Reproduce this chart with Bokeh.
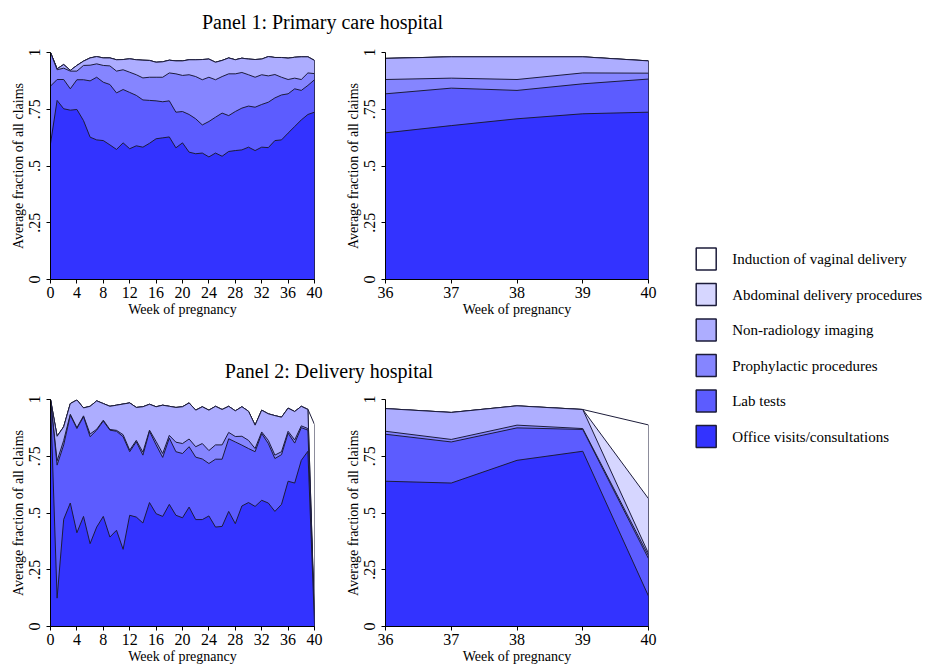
import numpy as np
from bokeh.plotting import figure
from bokeh.models import Range1d, FixedTicker
from bokeh.layouts import row, column
from bokeh.embed import file_html
from bokeh.resources import INLINE
from bokeh.core.properties import value

FONT = "Liberation Serif"

series_names = ["Office visits/consultations", "Lab tests", "Prophylactic procedures",
                "Non-radiology imaging", "Abdominal delivery procedures",
                "Induction of vaginal delivery"]
series_colors = ["#3333ff", "#5c5cff", "#8585ff", "#adadff", "#d6d6ff", "#ffffff"]
outline_color = "#1c1c3a"

weeks_all = list(range(0, 41))
weeks_end = [36, 37, 38, 39, 40]
x_ticks_all = [0, 4, 8, 12, 16, 20, 24, 28, 32, 36, 40]
x_ticks_end = [36, 37, 38, 39, 40]
y_ticks = [0, 0.25, 0.5, 0.75, 1]
y_tick_labels = ["0", ".25", ".5", ".75", "1"]

panel_titles = ["Panel 1: Primary care hospital", "Panel 2: Delivery hospital"]
x_title = "Week of pregnancy"
y_title = "Average fraction of all claims"

# ---------------- Panel 1, weeks 0-40 ----------------
p1_office = [0.598, 0.789, 0.752, 0.746, 0.749, 0.700, 0.627, 0.615, 0.612, 0.593,
             0.573, 0.602, 0.576, 0.589, 0.583, 0.600, 0.620, 0.624, 0.628, 0.580,
             0.602, 0.561, 0.554, 0.557, 0.540, 0.557, 0.543, 0.564, 0.568, 0.571,
             0.583, 0.568, 0.583, 0.581, 0.612, 0.615, 0.645, 0.674, 0.703, 0.727,
             0.737]
p1_lab = [0.254, 0.092, 0.129, 0.094, 0.131, 0.180, 0.248, 0.276, 0.257, 0.266,
          0.249, 0.235, 0.248, 0.222, 0.208, 0.189, 0.167, 0.159, 0.159, 0.157,
          0.138, 0.166, 0.154, 0.124, 0.156, 0.158, 0.190, 0.158, 0.172, 0.184,
          0.181, 0.191, 0.188, 0.200, 0.188, 0.198, 0.173, 0.166, 0.130, 0.128,
          0.143]
p1_prophylactic = [0.148, 0.043, 0.050, 0.078, 0.038, 0.063, 0.069, 0.059, 0.074, 0.082,
                   0.096, 0.087, 0.089, 0.091, 0.097, 0.102, 0.104, 0.108, 0.123, 0.169,
                   0.159, 0.175, 0.186, 0.199, 0.195, 0.165, 0.161, 0.184, 0.166, 0.157,
                   0.138, 0.132, 0.131, 0.116, 0.103, 0.078, 0.063, 0.047, 0.048, 0.055,
                   0.027]
p1_imaging = [0.000, 0.004, 0.016, 0.003, 0.025, 0.019, 0.032, 0.032, 0.033, 0.035,
              0.050, 0.045, 0.059, 0.066, 0.078, 0.074, 0.066, 0.068, 0.056, 0.057,
              0.064, 0.066, 0.074, 0.089, 0.080, 0.077, 0.071, 0.070, 0.062, 0.063,
              0.069, 0.078, 0.069, 0.085, 0.075, 0.087, 0.094, 0.092, 0.100, 0.071,
              0.058]
p1_abdominal = [0.0, 0.0, 0.0, 0.0, 0.0, 0.0, 0.0, 0.0, 0.0, 0.0,
                0.0, 0.0, 0.0, 0.0, 0.0, 0.0, 0.0, 0.0, 0.0, 0.0,
                0.0, 0.0, 0.0, 0.0, 0.0, 0.0, 0.0, 0.0, 0.0, 0.0,
                0.0, 0.0, 0.0, 0.0, 0.0, 0.0, 0.0, 0.0, 0.0, 0.0,
                0.0]
p1_induction = [0.0, 0.0, 0.0, 0.0, 0.0, 0.0, 0.0, 0.0, 0.0, 0.0,
                0.0, 0.0, 0.0, 0.0, 0.0, 0.0, 0.0, 0.0, 0.0, 0.0,
                0.0, 0.0, 0.0, 0.0, 0.0, 0.0, 0.0, 0.0, 0.0, 0.0,
                0.0, 0.0, 0.0, 0.0, 0.0, 0.0, 0.0, 0.0, 0.0, 0.0,
                0.0]

# ---------------- Panel 1, weeks 36-40 ----------------
p1e_office = [0.646, 0.678, 0.708, 0.730, 0.737]
p1e_lab = [0.172, 0.165, 0.125, 0.132, 0.146]
p1e_prophylactic = [0.063, 0.044, 0.048, 0.048, 0.026]
p1e_imaging = [0.093, 0.094, 0.100, 0.071, 0.054]
p1e_abdominal = [0.0, 0.0, 0.0, 0.0, 0.0]
p1e_induction = [0.0, 0.0, 0.0, 0.0, 0.0]

# ---------------- Panel 2, weeks 0-40 ----------------
p2_office = [1.000, 0.125, 0.472, 0.544, 0.413, 0.485, 0.365, 0.438, 0.485, 0.394,
             0.424, 0.340, 0.490, 0.482, 0.456, 0.546, 0.497, 0.485, 0.538, 0.490,
             0.479, 0.526, 0.471, 0.471, 0.487, 0.438, 0.441, 0.507, 0.453, 0.531,
             0.546, 0.529, 0.556, 0.544, 0.507, 0.538, 0.640, 0.632, 0.732, 0.772,
             0.010]
p2_lab = [0.000, 0.586, 0.328, 0.387, 0.459, 0.439, 0.471, 0.427, 0.420, 0.471,
          0.436, 0.496, 0.280, 0.332, 0.299, 0.314, 0.303, 0.260, 0.292, 0.280,
          0.283, 0.266, 0.275, 0.267, 0.231, 0.299, 0.296, 0.320, 0.360, 0.268,
          0.238, 0.241, 0.294, 0.262, 0.233, 0.219, 0.212, 0.176, 0.144, 0.093,
          0.005]
p2_prophylactic = [0.000, 0.019, 0.020, 0.004, 0.004, 0.004, 0.012, 0.004, 0.004, 0.003,
                   0.004, 0.009, 0.007, 0.006, 0.013, 0.005, 0.015, 0.017, 0.012, 0.042,
                   0.044, 0.034, 0.046, 0.068, 0.057, 0.063, 0.063, 0.028, 0.024, 0.039,
                   0.036, 0.014, 0.007, 0.014, 0.015, 0.013, 0.008, 0.014, 0.008, 0.007,
                   0.005]
p2_imaging = [0.000, 0.108, 0.060, 0.047, 0.122, 0.035, 0.122, 0.125, 0.073, 0.102,
              0.111, 0.135, 0.208, 0.145, 0.200, 0.114, 0.153, 0.213, 0.128, 0.153,
              0.162, 0.159, 0.161, 0.162, 0.178, 0.170, 0.156, 0.115, 0.113, 0.130,
              0.128, 0.103, 0.096, 0.117, 0.174, 0.152, 0.102, 0.125, 0.086, 0.084,
              0.005]
p2_abdominal = [0.0, 0.0, 0.0, 0.0, 0.0, 0.0, 0.0, 0.0, 0.0, 0.0,
                0.0, 0.0, 0.0, 0.0, 0.0, 0.0, 0.0, 0.0, 0.0, 0.0,
                0.0, 0.0, 0.0, 0.0, 0.0, 0.0, 0.0, 0.0, 0.0, 0.0,
                0.0, 0.0, 0.0, 0.0, 0.0, 0.0, 0.0, 0.0, 0.0, 0.0,
                0.015]
p2_induction = [0.0, 0.0, 0.0, 0.0, 0.0, 0.0, 0.0, 0.0, 0.0, 0.0,
                0.0, 0.0, 0.0, 0.0, 0.0, 0.0, 0.0, 0.0, 0.0, 0.0,
                0.0, 0.0, 0.0, 0.0, 0.0, 0.0, 0.0, 0.0, 0.0, 0.0,
                0.0, 0.0, 0.0, 0.0, 0.0, 0.0, 0.0, 0.0, 0.0, 0.001,
                0.850]

# ---------------- Panel 2, weeks 36-40 ----------------
p2e_office = [0.640, 0.632, 0.732, 0.772, 0.134]
p2e_lab = [0.207, 0.181, 0.143, 0.096, 0.165]
p2e_prophylactic = [0.013, 0.011, 0.012, 0.004, 0.013]
p2e_imaging = [0.100, 0.119, 0.085, 0.084, 0.010]
p2e_abdominal = [0.0, 0.0, 0.0, 0.0, 0.241]
p2e_induction = [0.0, 0.0, 0.0, 0.0, 0.325]


def style_axes(p):
    for ax in list(p.xaxis) + list(p.yaxis):
        ax.axis_line_color = "black"
        ax.axis_line_width = 1
        ax.major_tick_line_color = "black"
        ax.major_tick_out = 4
        ax.major_tick_in = 0
        ax.minor_tick_line_color = None
        ax.major_label_text_font = FONT
        ax.major_label_text_font_size = "16px"
        ax.major_label_text_color = "black"
        ax.axis_label_text_font = FONT
        ax.axis_label_text_font_size = "14px"
        ax.axis_label_text_font_style = "normal"
        ax.axis_label_text_color = "black"
    p.xaxis.major_label_standoff = 3
    p.xaxis.axis_label_standoff = 1
    p.yaxis.major_label_standoff = 7
    p.yaxis.axis_label_standoff = 0
    p.yaxis.major_label_orientation = "vertical"


def make_area(weeks, shares, xticks, left_border, right_border, top_border, bottom_border):
    frame_w, frame_h = 264, 227
    p = figure(width=left_border + frame_w + right_border,
               height=top_border + frame_h + bottom_border,
               x_range=Range1d(weeks[0], weeks[-1]), y_range=Range1d(0, 1),
               output_backend="svg", toolbar_location=None,
               min_border_left=left_border, min_border_right=right_border,
               min_border_top=top_border, min_border_bottom=bottom_border)
    p.outline_line_color = None
    p.background_fill_color = "white"
    p.border_fill_color = "white"
    p.xgrid.visible = False
    p.ygrid.ticker = FixedTicker(ticks=y_ticks)
    p.ygrid.grid_line_color = "#e6eff1"

    cum = np.cumsum(np.array(shares, dtype=float), axis=0)
    xs = [weeks[0]] + list(weeks) + [weeks[-1]]
    for k in range(len(shares) - 1, -1, -1):
        ys = [0.0] + list(cum[k]) + [0.0]
        p.patch(xs, ys, fill_color=series_colors[k], line_color=outline_color,
                line_width=1, line_join="miter")

    p.xaxis.ticker = FixedTicker(ticks=xticks)
    p.yaxis.ticker = FixedTicker(ticks=y_ticks)
    p.yaxis.major_label_overrides = {t: lab for t, lab in zip(y_ticks, y_tick_labels)}
    p.xaxis.axis_label = x_title
    p.yaxis.axis_label = y_title
    style_axes(p)
    return p


def text_fig(txt, w, h, cx, cy, size):
    f = figure(width=w, height=h, x_range=Range1d(0, w), y_range=Range1d(h, 0),
               output_backend="svg", toolbar_location=None, min_border=0,
               x_axis_location=None, y_axis_location=None)
    f.grid.visible = False
    f.outline_line_color = None
    f.text(x=[cx], y=[cy], text=[txt], text_font=value(FONT), text_font_size=size,
           text_align="center", text_baseline="middle", text_color="black")
    return f


p1_shares = [p1_office, p1_lab, p1_prophylactic, p1_imaging, p1_abdominal, p1_induction]
p1e_shares = [p1e_office, p1e_lab, p1e_prophylactic, p1e_imaging, p1e_abdominal, p1e_induction]
p2_shares = [p2_office, p2_lab, p2_prophylactic, p2_imaging, p2_abdominal, p2_induction]
p2e_shares = [p2e_office, p2e_lab, p2e_prophylactic, p2e_imaging, p2e_abdominal, p2e_induction]

fig1l = make_area(weeks_all, p1_shares, x_ticks_all, 50, 28, 10, 40)
fig1r = make_area(weeks_end, p1e_shares, x_ticks_end, 42, 10, 10, 40)
fig2l = make_area(weeks_all, p2_shares, x_ticks_all, 50, 28, 8, 40)
fig2r = make_area(weeks_end, p2e_shares, x_ticks_end, 42, 10, 8, 40)

t1 = text_fig(panel_titles[0], 658, 42, 322, 21, "20px")
t2 = text_fig(panel_titles[1], 658, 72, 328.5, 51, "20px")

# legend panel
leg = figure(width=267, height=666, x_range=Range1d(0, 267), y_range=Range1d(666, 0),
             output_backend="svg", toolbar_location=None, min_border=0,
             x_axis_location=None, y_axis_location=None)
leg.grid.visible = False
leg.outline_line_color = None
order = list(range(len(series_names) - 1, -1, -1))
row_y = [258.6 + 35.5 * i for i in range(len(order))]
leg.rect(x=[47.7] * len(order), y=row_y, width=20, height=22,
         width_units="screen", height_units="screen",
         fill_color=[series_colors[k] for k in order], line_color=outline_color,
         line_width=1.5)
leg.text(x=[73.7] * len(order), y=row_y, text=[series_names[k] for k in order],
         text_font=value(FONT), text_font_size="15px", text_align="left",
         text_baseline="middle", text_color="black")

layout = row(column(t1, row(fig1l, fig1r), t2, row(fig2l, fig2r)), leg)

open("out.html", "w").write(file_html(layout, INLINE))
